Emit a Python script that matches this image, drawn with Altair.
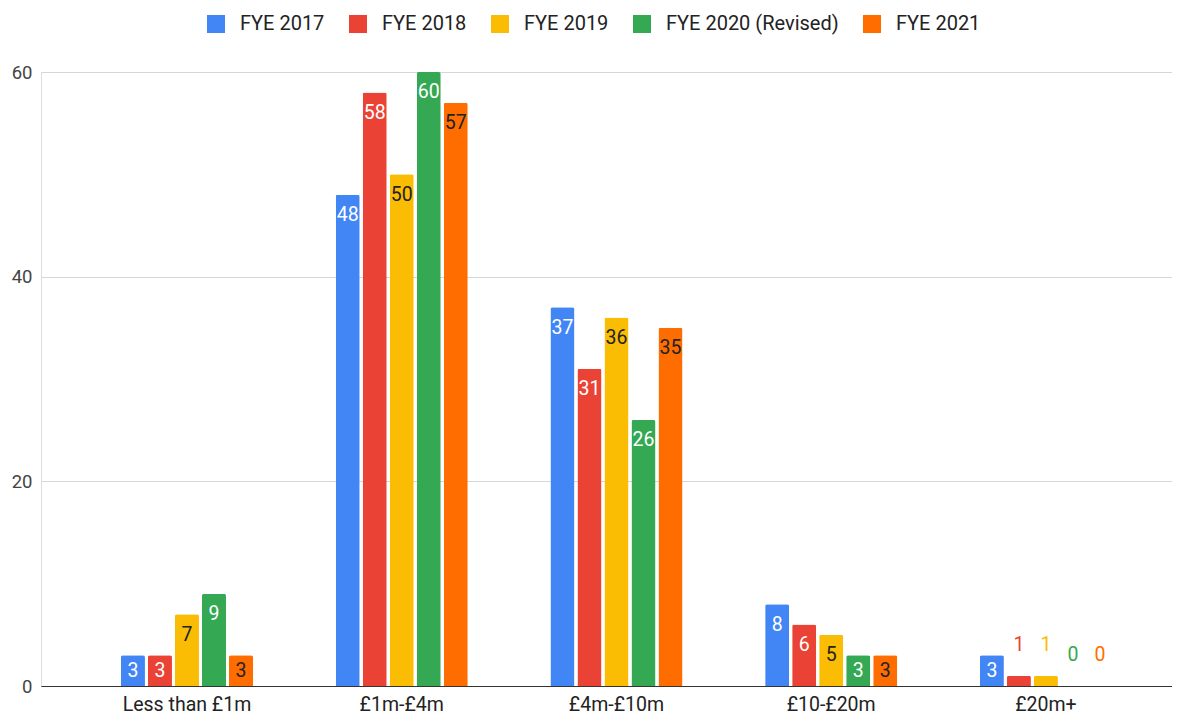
import altair as alt
import pandas as pd

categories = ["Less than £1m", "£1m-£4m", "£4m-£10m", "£10-£20m", "£20m+"]
series = ["FYE 2017", "FYE 2018", "FYE 2019", "FYE 2020 (Revised)", "FYE 2021"]
colors = ["#4285F4", "#EA4335", "#FBBC04", "#34A853", "#FF6D01"]
inside_text_colors = ["#ffffff", "#ffffff", "#222222", "#ffffff", "#222222"]

fye2017 = [3, 48, 37, 8, 3]
fye2018 = [3, 58, 31, 6, 1]
fye2019 = [7, 50, 36, 5, 1]
fye2020 = [9, 60, 26, 3, 0]
fye2021 = [3, 57, 35, 3, 0]

values = [fye2017, fye2018, fye2019, fye2020, fye2021]

rows = []
for s, col, tcol, vals in zip(series, colors, inside_text_colors, values):
    for c, v in zip(categories, vals):
        rows.append({"category": c, "series": s, "value": v, "bcolor": col, "tcolor": tcol})
df = pd.DataFrame(rows)

FONT = "Roboto"

x_enc = alt.X("category:N", sort=categories,
              scale=alt.Scale(paddingInner=0.385, paddingOuter=0.326, align=0.571),
              axis=alt.Axis(title=None, labelAngle=0, labelFontSize=19.5, labelColor="#222222",
                            labelFont=FONT, ticks=False, domainColor="#333333",
                            domainWidth=1, labelPadding=9, grid=False))
xoff_enc = alt.XOffset("series:N", sort=series,
                       scale=alt.Scale(paddingInner=0.111, paddingOuter=0))
y_scale = alt.Scale(domain=[0, 60], nice=False)

bars = alt.Chart(df).mark_bar(cornerRadiusTopLeft=2, cornerRadiusTopRight=2).encode(
    x=x_enc,
    xOffset=xoff_enc,
    y=alt.Y("value:Q", scale=y_scale,
            axis=alt.Axis(title=None, values=[0, 20, 40, 60], labelFontSize=18.5,
                          labelColor="#444444", labelFont=FONT, ticks=False, domain=False,
                          gridColor="#d6d6d6", gridWidth=1, labelPadding=9)),
    color=alt.Color("series:N", sort=series,
                    scale=alt.Scale(domain=series, range=colors),
                    legend=alt.Legend(title=None, orient="none", direction="horizontal",
                                      legendX=165, legendY=-58, columns=5,
                                      symbolType="square", symbolSize=324,
                                      symbolStrokeWidth=0, labelFontSize=20,
                                      labelFont=FONT, labelColor="#222222",
                                      labelLimit=400,
                                      labelOffset=14, columnPadding=23)),
)

inside = alt.Chart(df).transform_filter(
    alt.datum.value >= 2
).transform_calculate(
    ly="max(datum.value - 2, datum.value / 2)"
).mark_text(baseline="middle", align="center", fontSize=19.5, font=FONT).encode(
    x=alt.X("category:N", sort=categories),
    xOffset=alt.XOffset("series:N", sort=series),
    y=alt.Y("ly:Q", scale=y_scale),
    text=alt.Text("value:Q"),
    color=alt.Color("tcolor:N", scale=None, legend=None),
)

outside = alt.Chart(df).transform_filter(
    alt.datum.value < 2
).mark_text(baseline="middle", align="center", fontSize=19.5, font=FONT, dy=-31).encode(
    x=alt.X("category:N", sort=categories),
    xOffset=alt.XOffset("series:N", sort=series),
    y=alt.Y("value:Q", scale=y_scale),
    text=alt.Text("value:Q"),
    color=alt.Color("bcolor:N", scale=None, legend=None),
)

chart = alt.layer(bars, inside, outside).properties(
    width=1131, height=614,
    autosize=alt.AutoSizeParams(type="none"),
    padding={"left": 33, "top": 64, "right": 0, "bottom": 29},
).configure_view(stroke=None).configure(font=FONT)

chart.save("out.html", embed_options={"renderer": "svg", "actions": False})
